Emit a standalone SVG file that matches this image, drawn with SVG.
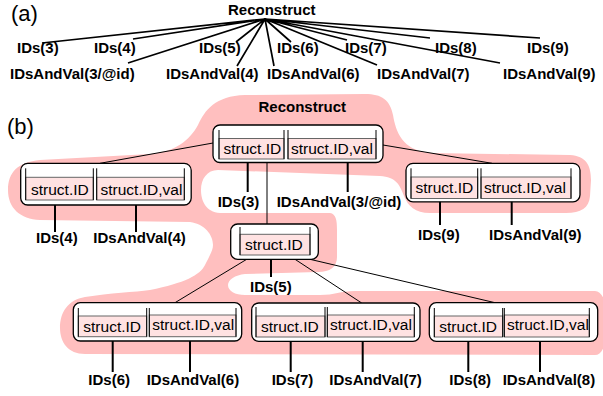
<svg xmlns="http://www.w3.org/2000/svg" width="603" height="396" viewBox="0 0 603 396">
<style>
text{font-family:"Liberation Sans",Arial,sans-serif;fill:#000}
.lb{font-weight:bold;font-size:15px}
.tag{font-size:22px}
.st{font-size:15.5px}
.fan{stroke:#000;stroke-width:1.7;fill:none}
.con{stroke:#000;stroke-width:1;fill:none}
.ll{stroke:#000;stroke-width:2;fill:none}
.outer{fill:#fff;stroke:#000;stroke-width:1.3}
.cb{fill:#ffe2e2;stroke:#666;stroke-width:1}
.sd{stroke:#000;stroke-width:1;fill:none}
.blob{fill:#ffbfbf;stroke:none}
</style>

<!-- (a) -->
<g id="part-a">
<text class="tag" x="11" y="21">(a)</text>
<g id="a-connectors">
<path class="fan" d="M265,19L42,43M265,19L133,39M265,19L128,63M265,19L236,42M265,19L237,66M265,19L274,66M265,19L291,42M265,19L377,65M265,19L347,40M265,19L430,38M265,19L500,63M265,19L540,38"/>
</g>
<g id="a-root"><text class="lb" x="228" y="15">Reconstruct</text></g>
<g id="a-ids3"><text class="lb" x="17" y="53">IDs(3)</text></g>
<g id="a-ids4"><text class="lb" x="94" y="53">IDs(4)</text></g>
<g id="a-ids5"><text class="lb" x="199" y="53">IDs(5)</text></g>
<g id="a-ids6"><text class="lb" x="277" y="53">IDs(6)</text></g>
<g id="a-ids7"><text class="lb" x="345" y="53">IDs(7)</text></g>
<g id="a-ids8"><text class="lb" x="435" y="53">IDs(8)</text></g>
<g id="a-ids9"><text class="lb" x="527" y="53">IDs(9)</text></g>
<g id="a-iv3"><text class="lb" x="10" y="78.5">IDsAndVal(3/@id)</text></g>
<g id="a-iv4"><text class="lb" x="166" y="78.5">IDsAndVal(4)</text></g>
<g id="a-iv6"><text class="lb" x="267" y="78.5">IDsAndVal(6)</text></g>
<g id="a-iv7"><text class="lb" x="377" y="78.5">IDsAndVal(7)</text></g>
<g id="a-iv9"><text class="lb" x="503" y="78.5">IDsAndVal(9)</text></g>
</g>

<!-- (b) -->
<text class="tag" x="7" y="134">(b)</text>
<path id="region" class="blob" d="M245,95 L365,94 C382,94 390,100 393,115 C396,132 402,150 430,153 L570,155 C586,156 591,165 591,180 L590,196 C589,208 581,213 566,213 L430,213 C415,213 408,206 404,196 C400,185 396,177 380,176 L218,170 C207,170 201,179 201,190 C201,201 206,212 220,213 L330,213 C336,214 337,220 337,230 L337,257 C337,267 330,272 318,272 L245,274 C235,275 228,280 228,285 C228,291 235,295 245,295 L320,295 C335,295 340,291 355,291 L595,291 C612,291 612,355 595,355 L85,354 C68,354 60,342 60,328 C60,312 68,300 85,297 C110,293 135,292 150,290 C185,283 200,275 205,265 C210,255 213,250 213,245 C213,235 205,224 190,222 L40,220 C20,219 8,208 8,190 C8,172 18,162 40,160 L150,154 C175,152 190,140 198,125 C205,110 215,96 245,95 Z"/>
<text class="lb" x="258.5" y="111.5">Reconstruct</text>

<g id="connectors">
<path class="con" d="M213,143L100,163.3M383,145L492,163.3M267,162.5L267,224M246.7,259.3L175,302.7M295,259.3L361.7,303M310,259.3L495,302.7"/>
<path class="ll" d="M247.7,159V192M347.7,159V192M55,200V232M136,200V232M440,198V225M511.7,198V225M271,255V277M112.7,337V372M190,337V372M290.7,337V372M362.7,337V372M468.3,337V372M540,337V372"/>
</g>

<g id="root">
<rect class="outer" x="213" y="125" width="170" height="37.5" rx="7"/>
<rect class="cb" x="219" y="138.5" width="65" height="20.5"/>
<rect class="cb" x="288" y="138.5" width="88" height="20.5"/>
<path class="sd" d="M219,130V159M284,130V159M288,130V159M376,130V159"/>
<text class="st" x="223.5" y="153.5">struct.ID</text>
<text class="st" x="291" y="153.5">struct.ID,val</text>
</g>

<g id="left">
<rect class="outer" x="20.7" y="163.3" width="170.5" height="41.7" rx="7"/>
<rect class="cb" x="25.7" y="177.3" width="67.6" height="22.7"/>
<rect class="cb" x="96.7" y="177.3" width="87.6" height="22.7"/>
<path class="sd" d="M25.7,168.3V200M93.3,168.3V200M96.7,168.3V200M184.3,168.3V200"/>
<text class="st" x="31" y="195">struct.ID</text>
<text class="st" x="100.5" y="194.5">struct.ID,val</text>
</g>

<g id="right">
<rect class="outer" x="406" y="163.3" width="174" height="38.5" rx="7"/>
<rect class="cb" x="411" y="177" width="66.7" height="21.5"/>
<rect class="cb" x="481" y="177" width="90" height="21.5"/>
<path class="sd" d="M411,168.3V198.5M477.7,168.3V198.5M481,168.3V198.5M571,168.3V198.5"/>
<text class="st" x="415.5" y="193">struct.ID</text>
<text class="st" x="484" y="192.5">struct.ID,val</text>
</g>

<g id="middle">
<rect class="outer" x="230.7" y="224" width="87.6" height="35.3" rx="7"/>
<rect class="cb" x="240" y="234.3" width="70" height="20.7"/>
<path class="sd" d="M240,227V255M310,227V255"/>
<text class="st" x="245" y="250">struct.ID</text>
</g>

<g id="n6">
<rect class="outer" x="73.3" y="302.7" width="168.4" height="38.3" rx="7"/>
<rect class="cb" x="78.3" y="316" width="68.4" height="20.7"/>
<rect class="cb" x="149.3" y="315" width="86.7" height="21.7"/>
<path class="sd" d="M78.3,308V336.7M146.7,308V336.7M149.3,308V336.7M236,308V336.7"/>
<text class="st" x="83.3" y="331.5">struct.ID</text>
<text class="st" x="152.3" y="330">struct.ID,val</text>
</g>

<g id="n7">
<rect class="outer" x="251.7" y="303" width="168.3" height="38.3" rx="7"/>
<rect class="cb" x="256" y="316" width="69" height="21"/>
<rect class="cb" x="327.3" y="315" width="87" height="22"/>
<path class="sd" d="M256,307V337M325,307V337M327.3,307V337M414.3,307V337"/>
<text class="st" x="261" y="331.5">struct.ID</text>
<text class="st" x="330" y="330">struct.ID,val</text>
</g>

<g id="n8">
<rect class="outer" x="429.3" y="302.7" width="168.4" height="38.6" rx="7"/>
<rect class="cb" x="434.3" y="316" width="68.4" height="21"/>
<rect class="cb" x="504.3" y="315" width="85" height="22"/>
<path class="sd" d="M434.3,308V337M502.7,308V337M504.3,308V337M589.3,308V337"/>
<text class="st" x="439.3" y="331.5">struct.ID</text>
<text class="st" x="507" y="330">struct.ID,val</text>
</g>

<g id="labels-b">
<text class="lb" x="217.7" y="206.7">IDs(3)</text>
<text class="lb" x="276.7" y="206.7">IDsAndVal(3/@id)</text>
<text class="lb" x="36" y="243">IDs(4)</text>
<text class="lb" x="93.3" y="243">IDsAndVal(4)</text>
<text class="lb" x="418" y="240">IDs(9)</text>
<text class="lb" x="489" y="240">IDsAndVal(9)</text>
<text class="lb" x="250" y="291.5">IDs(5)</text>
<text class="lb" x="88.3" y="385">IDs(6)</text>
<text class="lb" x="146.7" y="385">IDsAndVal(6)</text>
<text class="lb" x="271.7" y="385">IDs(7)</text>
<text class="lb" x="329.3" y="385">IDsAndVal(7)</text>
<text class="lb" x="449.3" y="385">IDs(8)</text>
<text class="lb" x="502.7" y="385">IDsAndVal(8)</text>
</g>
</svg>
